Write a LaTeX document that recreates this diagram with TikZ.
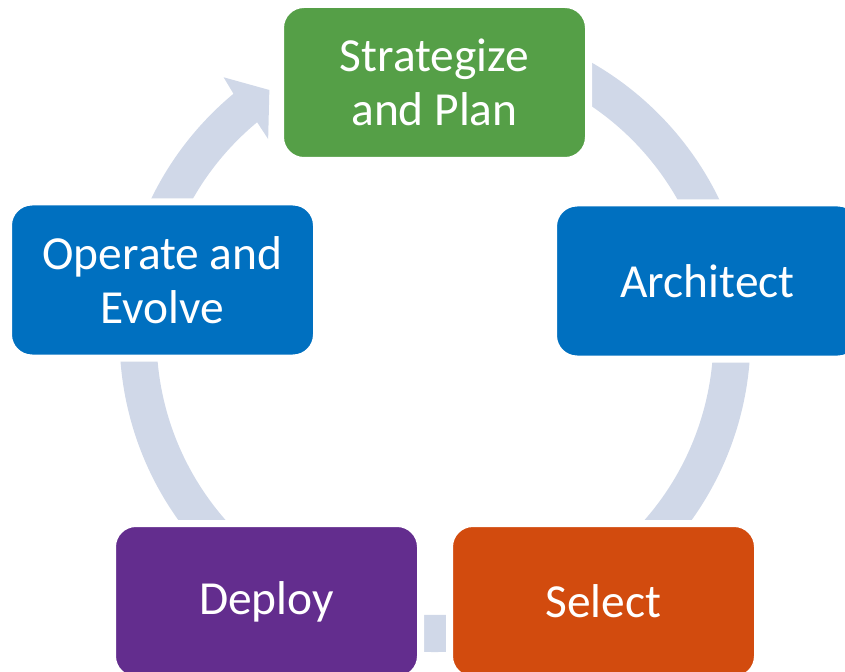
\documentclass[tikz,border=0pt]{standalone}
\usepackage{fontspec}
\setmainfont{Carlito}

\definecolor{ringblue}{HTML}{D0D8E8}
\definecolor{stepgreen}{HTML}{559F47}
\definecolor{stepblue}{HTML}{0070C0}
\definecolor{steporange}{HTML}{D24B0E}
\definecolor{steppurple}{HTML}{632D8E}

\begin{document}
\begin{tikzpicture}
\useasboundingbox (0,0) rectangle (16.9,13.42);
\coordinate (c) at (8.70, 6.69);

% % ring with one arrow head, behind the boxes
\fill[ringblue] ([shift={(c)}]95:6.31) arc[start angle=95, end angle=-230.3, radius=6.31]
    -- ([shift={(c)}]129.2:6.69) -- ([shift={(c)}]123.9:5.94) -- ([shift={(c)}]130.2:5.17)
    -- ([shift={(c)}]129.7:5.57) arc[start angle=-230.3, end angle=95, radius=5.57] -- cycle;

\begin{scope}[
    every node/.style={rectangle,rounded corners=0.47cm,draw=white,line width=0.14cm,
        minimum width=6.16cm,minimum height=3.12cm,align=center,text=white,
        font=\fontsize{27}{30.5}\selectfont}]
    \node (plan) at (8.69, 11.77) [fill=stepgreen] {Strategize\\and Plan};

    \node (arch) at (14.15, 7.80) [fill=stepblue] {Architect};

    \node (select) at (12.07, 1.39) [fill=steporange] {Select};

    \node (deploy) at (5.33, 1.39) [fill=steppurple] {Deploy};

    \node (operate) at (3.25, 7.82) [fill=stepblue] {Operate and\\Evolve};
\end{scope}
\end{tikzpicture}
\end{document}
